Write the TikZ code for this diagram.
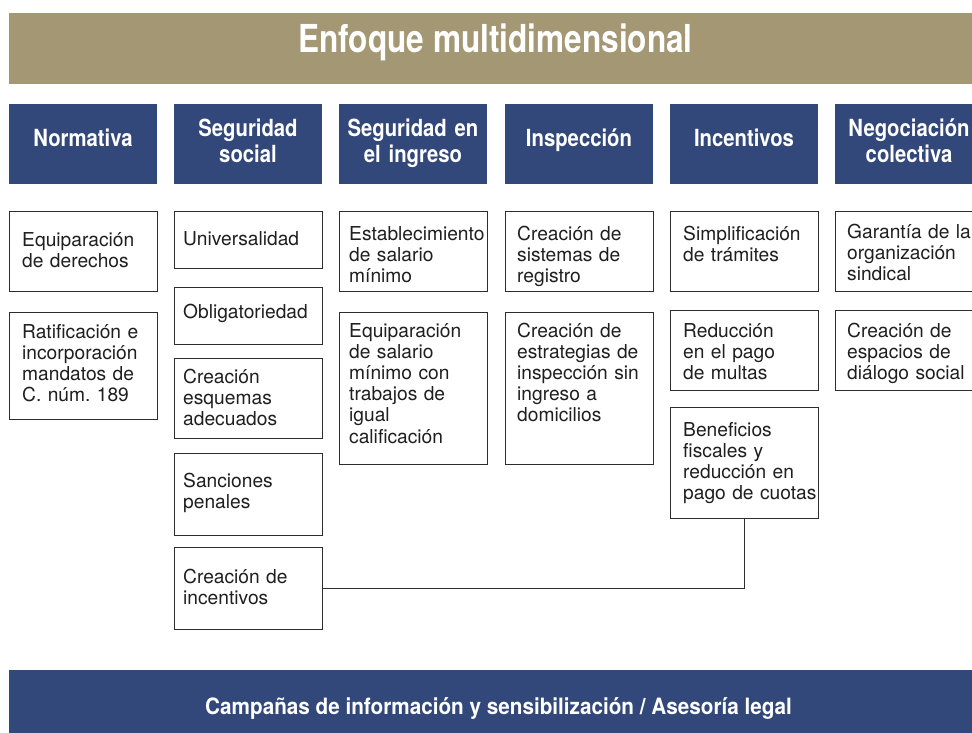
\documentclass[tikz,border=0pt]{standalone}
\usepackage{fontspec}
\setmainfont{TeX Gyre Heros}
\newfontfamily\titlefont{TeX Gyre Heros}[FakeStretch=0.82]
\newfontfamily\headfont{TeX Gyre Heros}[FakeStretch=0.86]
\newfontfamily\footfont{TeX Gyre Heros}[FakeStretch=0.92]
\definecolor{tanbar}{RGB}{164,151,116}
\definecolor{navy}{RGB}{50,72,122}
\definecolor{edge}{RGB}{45,45,45}
\frenchspacing
\tikzset{
  bar/.style={draw=none, inner sep=0pt, anchor=north west},
  hdrbox/.style={fill=navy, draw=none, inner sep=0pt, anchor=north west, minimum width=148pt, minimum height=80pt},
  hdrtext/.style={text=white, font=\headfont\bfseries\fontsize{23.6}{26}\selectfont, align=center, text width=150pt, inner sep=0pt, anchor=base},
  cellbox/.style={draw=edge, line width=1.3pt, fill=white, inner sep=0pt, anchor=north west, minimum width=148pt},
  celltext/.style={text=black!88, font=\fontsize{19.2}{21.2}\selectfont, align=left, text width=150pt, inner sep=0pt, anchor=base west},
  link/.style={draw=edge, line width=1.3pt},
}
% name, x, text x, top, bottom, first baseline, text
\newcommand\mycell[7]{%
  \node[cellbox, minimum height={#5-#4}] (#1) at (#2,#4) {};
  \node[celltext] (#1t) at (#3,#6) {#7};
}
\newcommand\myhead[5]{%
  \node[hdrbox] (#1) at (#2,104) {};
  \node[hdrtext] (#1t) at (#3,#4) {#5};
}
\begin{document}
\begin{tikzpicture}[x=1pt,y=-1pt]
\useasboundingbox (0,0) rectangle (972,733);
% title banner
\node[bar, fill=tanbar, minimum width=975pt, minimum height=71pt] (titlebar) at (9,13) {};
\node[text=white, font=\titlefont\bfseries\fontsize{38.5}{40}\selectfont, anchor=base, inner sep=0pt] (title) at (495.5,53) {Enfoque multidimensional};
% headers
\myhead{h1}{9}{83}{147}{Normativa}
\myhead{h2}{174}{248}{137}{Seguridad\\social}
\myhead{h3}{339}{413}{137}{Seguridad en\\el ingreso}
\myhead{h4}{505}{579}{147}{Inspección}
\myhead{h5}{670}{744}{147}{Incentivos}
\myhead{h6}{835}{909}{137}{Negociación\\colectiva}
% column 1
\mycell{n1}{9}{22}{211}{291}{246}{Equiparación\\de derechos}
\mycell{n2}{9}{22}{312}{419}{338}{Ratificación e\\incorporación\\mandatos de\\C. núm. 189}
% column 2
\mycell{s1}{174}{183}{211}{268}{245}{Universalidad}
\mycell{s2}{174}{183}{287}{344}{318}{Obligatoriedad}
\mycell{s3}{174}{183}{358}{438}{383}{Creación\\esquemas\\adecuados}
\mycell{s4}{174}{183}{453}{535}{487}{Sanciones\\penales}
\mycell{s5}{174}{183}{547}{629}{583}{Creación de\\incentivos}
% column 3
\mycell{i1}{339}{349}{211}{291}{240}{Establecimiento\\de salario\\mínimo}
\mycell{i2}{339}{349}{312}{464}{337}{Equiparación\\de salario\\mínimo con\\trabajos de\\igual\\calificación}
% column 4
\mycell{p1}{505}{517}{211}{291}{240}{Creación de\\sistemas de\\registro}
\mycell{p2}{505}{517}{312}{464}{337}{Creación de\\estrategias de\\inspección sin\\ingreso a\\domicilios}
% column 5
\mycell{c1}{670}{683}{211}{291}{240}{Simplificación\\de trámites}
\mycell{c2}{670}{683}{310}{390}{337}{Reducción\\en el pago\\de multas}
\mycell{c3}{670}{683}{407}{518}{436}{Beneficios\\fiscales y\\reducción en\\pago de cuotas}
% column 6
\mycell{g1}{835}{847}{211}{291}{238}{Garantía de la\\organización\\sindical}
\mycell{g2}{835}{847}{310}{390}{337}{Creación de\\espacios de\\diálogo social}
% connector
\draw[link] (c3.south) |- (s5.east);
% bottom banner
\node[bar, fill=navy, minimum width=975pt, minimum height=70pt] (footbar) at (9,670) {};
\node[text=white, font=\footfont\bfseries\fontsize{22.5}{24}\selectfont, anchor=base, inner sep=0pt] (foot) at (498.5,714) {Campañas de información y sensibilización / Asesoría legal};
\end{tikzpicture}
\end{document}
